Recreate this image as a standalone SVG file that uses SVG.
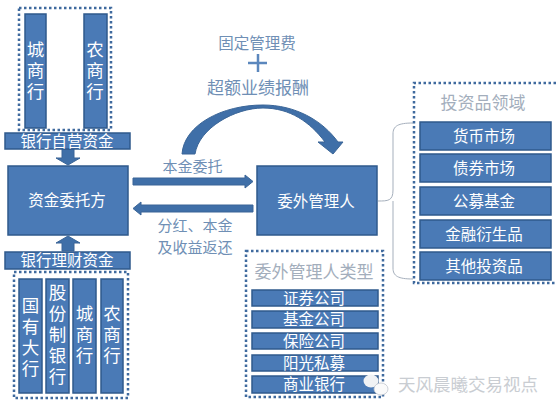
<svg xmlns="http://www.w3.org/2000/svg" width="556" height="413" viewBox="0 0 556 413">
<style>
text{font-family:"Noto Sans CJK SC","Liberation Sans",sans-serif;text-anchor:middle}
.b{fill:#4a7ab6;stroke:#2f5a8c;stroke-width:1.5}
.w{fill:#fff;font-size:15.5px}
.v{fill:#fff;font-size:17.5px;writing-mode:vertical-rl;letter-spacing:3.5px}
.m{fill:#fff;font-size:15.5px}
.l{fill:#6f8fb5;font-size:15px}
.t{fill:#6f8fb5;font-size:15.5px}
.t2{fill:#6f8fb5;font-size:17px}
.h{fill:#a3aebc;font-size:17px}
.d{fill:none;stroke:#3f6a9e;stroke-width:2.5;stroke-dasharray:2.5 2.5}
.a{fill:#3f6fa8;stroke:#3a6597;stroke-width:1}
</style>
<rect width="556" height="413" fill="#fff"/>
<g id="connectors">
<path class="a" d="M62 149H74V158H80L68 165L56 158H62Z"/>
<path class="a" d="M62 251H74V243H80L68 236L56 243H62Z"/>
<path class="a" d="M133 178H245V175L253 181.500L245 188V185H133Z"/>
<path class="a" d="M253 205H141V202L133 208.500L141 215V212H253Z"/>
<path class="a" d="M182 154C184 125 222 105 263 105C295 105 322 120 338 142H343L333 154L318 142H325C310 122 290 108 263 108C235 108 199 128 195 154Z"/>
<path d="M378 201C388 201 393 201 393 190V134C393 126 398 123 413 123M393 201V268C393 276 398 279 413 279" fill="none" stroke="#a5afbc" stroke-width="1"/>
<path d="M258 54V72M248 63H267" fill="none" stroke="#5b87bd" stroke-width="2.500"/>
</g>
<g id="own-funds-group">
<rect class="d" x="19" y="8" width="92" height="122"/>
<g id="city-bank-top"><rect class="b" x="25" y="14" width="21" height="114"/><text class="v" x="35.500" y="72">城商行</text></g>
<g id="rural-bank-top"><rect class="b" x="84" y="14" width="23" height="114"/><text class="v" x="95" y="72">农商行</text></g>
</g>
<g id="own-funds"><rect class="b" x="5" y="133" width="125" height="16"/><text class="m" x="67" y="146.500">银行自营资金</text></g>
<g id="principal"><rect class="b" x="8" y="166" width="120" height="69"/><text class="w" x="67" y="206">资金委托方</text></g>
<g id="wealth-funds"><rect class="b" x="5" y="252" width="125" height="17"/><text class="m" x="67" y="266">银行理财资金</text></g>
<g id="wealth-group">
<rect class="d" x="14" y="272" width="114" height="126"/>
<g id="big-banks"><rect class="b" x="19" y="279" width="23" height="114"/><text class="v" x="30.500" y="339">国有大行</text></g>
<g id="joint-stock"><rect class="b" x="46" y="279" width="23" height="114"/><text class="v" x="57.500" y="336">股份制银行</text></g>
<g id="city-bank"><rect class="b" x="73" y="279" width="23" height="114"/><text class="v" x="84.500" y="336">城商行</text></g>
<g id="rural-bank"><rect class="b" x="101" y="279" width="22" height="114"/><text class="v" x="112" y="336">农商行</text></g>
</g>
<g id="manager"><rect class="b" x="257" y="166" width="120" height="69"/><text class="w" x="316" y="207">委外管理人</text></g>
<g id="labels">
<text class="t" x="257" y="49">固定管理费</text>
<text class="t2" x="258" y="94">超额业绩报酬</text>
<text class="l" x="192.500" y="172">本金委托</text>
<text class="l" x="195" y="230.500">分红、本金</text>
<text class="l" x="195" y="252.500">及收益返还</text>
</g>
<g id="investment-group">
<path class="d" d="M556 83H414V283H556"/>
<text class="h" x="483" y="109">投资品领域</text>
<g id="inv1"><rect class="b" x="420" y="122" width="131" height="28"/><text class="w" x="484" y="142">货币市场</text></g>
<g id="inv2"><rect class="b" x="420" y="154" width="131" height="28"/><text class="w" x="484" y="174">债券市场</text></g>
<g id="inv3"><rect class="b" x="420" y="187" width="131" height="28"/><text class="w" x="484" y="207">公募基金</text></g>
<g id="inv4"><rect class="b" x="420" y="220" width="131" height="28"/><text class="w" x="484" y="240">金融衍生品</text></g>
<g id="inv5"><rect class="b" x="420" y="252" width="131" height="28"/><text class="w" x="484" y="272">其他投资品</text></g>
</g>
<g id="manager-types">
<rect class="d" x="246" y="251" width="137" height="146"/>
<text class="h" x="314" y="278">委外管理人类型</text>
<g id="type1"><rect class="b" x="252" y="290" width="126" height="16"/><text class="m" x="314" y="304">证券公司</text></g>
<g id="type2"><rect class="b" x="252" y="311" width="126" height="17"/><text class="m" x="314" y="325">基金公司</text></g>
<g id="type3"><rect class="b" x="252" y="333" width="126" height="16"/><text class="m" x="314" y="347">保险公司</text></g>
<g id="type4"><rect class="b" x="252" y="355" width="126" height="16"/><text class="m" x="314" y="369">阳光私募</text></g>
<g id="type5"><rect class="b" x="252" y="376" width="126" height="17"/><text class="m" x="314" y="390">商业银行</text></g>
</g>
<g id="watermark">
<ellipse cx="371" cy="381" rx="7.500" ry="6.500" fill="#f0f2f4"/>
<ellipse cx="381" cy="389" rx="7" ry="6" fill="#fafafa" stroke="#c2c7ce" stroke-width="0.800"/>
<text x="468" y="391" fill="#c9cdd2" font-size="17.500">天风晨曦交易视点</text>
</g>
</svg>
